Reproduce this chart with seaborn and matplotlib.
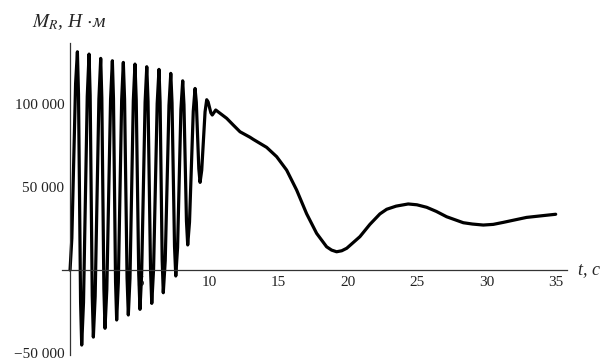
import matplotlib
matplotlib.use("Agg")
import matplotlib.pyplot as plt
import matplotlib.ticker as mticker
import pandas as pd
import seaborn as sns

# time, s -- fast oscillation (extrema plus shoulder points)
t_osc = [0.0, 0.13, 0.40, 0.53, 0.61, 0.76, 0.84, 0.97, 1.24, 1.37, 1.45,
         1.60, 1.68, 1.81, 2.08, 2.21, 2.29, 2.44, 2.52, 2.65, 2.92, 3.05,
         3.13, 3.28, 3.36, 3.48, 3.72, 3.84, 3.93, 4.11, 4.20, 4.32, 4.56,
         4.68, 4.77, 4.95, 5.04, 5.16, 5.41, 5.53, 5.62, 5.80, 5.89, 6.02,
         6.28, 6.41, 6.49, 6.64, 6.72, 6.86, 7.13, 7.26, 7.35, 7.53, 7.62,
         7.75, 7.99, 8.12, 8.21, 8.39, 8.48, 8.61, 8.88, 9.01, 9.10, 9.28,
         9.37, 9.49, 9.73, 9.85, 9.95, 10.15]
# moment M_R, N*m
m_osc = [0, 19200, 112300, 131500, 105700, -19400, -45200, -19600, 104500,
         130100, 105200, -15500, -40400, -15900, 103000, 127500, 103800,
         -11400, -35100, -11600, 102600, 126100, 103300, -7300, -30100,
         -7400, 102400, 125100, 102900, -4900, -27100, -5000, 102000, 124100,
         102500, -2100, -23700, -2400, 101200, 122500, 101700, 700, -20100,
         500, 100300, 120900, 101200, 6000, -13700, 5600, 99200, 118500,
         100700, 14200, -3600, 13600, 96800, 114000, 99600, 29500, 15100,
         28900, 95600, 109400, 101100, 61100, 52800, 60100, 95300, 102600,
         101300, 94700]

# slow tail
t_tail = [10.25, 10.50, 11.29, 11.77, 12.25, 12.97, 13.21, 14.17, 14.89,
          15.61, 16.33, 17.05, 17.77, 18.49, 18.85, 19.21, 19.58, 19.94,
          20.89, 21.61, 22.33, 22.82, 23.5, 24.37, 25.0, 25.70, 26.4, 27.14,
          28.34, 29.0, 29.78, 30.5, 31.22, 32.0, 32.90, 34.0, 35.0]
m_tail = [93400, 96400, 91400, 87300, 83300, 80000, 78700, 73900, 68300,
          60200, 48200, 33900, 22100, 14000, 12000, 11000, 11600, 13100,
          20100, 27500, 33800, 36600, 38500, 39800, 39300, 37800, 35300,
          32100, 28500, 27700, 27100, 27500, 28700, 30100, 31700, 32700,
          33600]

x_ticks = [5, 10, 15, 20, 25, 30, 35]
y_ticks = [-50000, 50000, 100000]
y_labels = ["\u221250 000", "50 000", "100 000"]

df = pd.DataFrame({"t": t_osc + t_tail, "M": m_osc + m_tail})

sns.set_style("white")
plt.rcParams["font.family"] = ["Liberation Serif", "DejaVu Serif"]
plt.rcParams["mathtext.fontset"] = "stix"

fig = plt.figure(figsize=(6.06, 3.61), dpi=100)
ax = fig.add_axes([0.1023, 0.01756, 0.833, 0.862])

sns.lineplot(data=df, x="t", y="M", color="black", lw=2.3,
             estimator=None, sort=False, ax=ax)
for ln in ax.lines:
    ln.set_solid_joinstyle("round")
    ln.set_solid_capstyle("round")

ax.set_xlim(-0.58, 35.8)
ax.set_ylim(-51000, 136500)

for s in ["top", "right"]:
    ax.spines[s].set_visible(False)
for s in ["left", "bottom"]:
    ax.spines[s].set_position(("data", 0))
    ax.spines[s].set_color("#333333")
    ax.spines[s].set_linewidth(0.9)

ax.set_xticks(x_ticks)
ax.set_xticklabels([str(v) for v in x_ticks])
ax.set_yticks(y_ticks)
ax.set_yticklabels(y_labels)
ax.xaxis.set_minor_locator(mticker.MultipleLocator(1))
ax.yaxis.set_minor_locator(mticker.MultipleLocator(10000))
ax.tick_params(which="major", direction="in", length=4, width=0.9,
               color="#333333", labelsize=11, labelcolor="#222222", pad=4)
ax.tick_params(which="minor", direction="in", length=2.5, width=0.8,
               color="#333333")
ax.set_xlabel("")
ax.set_ylabel("")
ax.grid(False)

fig.text(32 / 606, 1 - 27 / 361, r"$M_R$, H $\cdot$м", fontsize=14,
         fontstyle="italic", va="baseline", ha="left")
fig.text(578 / 606, 1 - 270 / 361, "t, c", fontsize=13,
         fontstyle="italic", va="center", ha="left")

fig.savefig("out.png", dpi=100)
